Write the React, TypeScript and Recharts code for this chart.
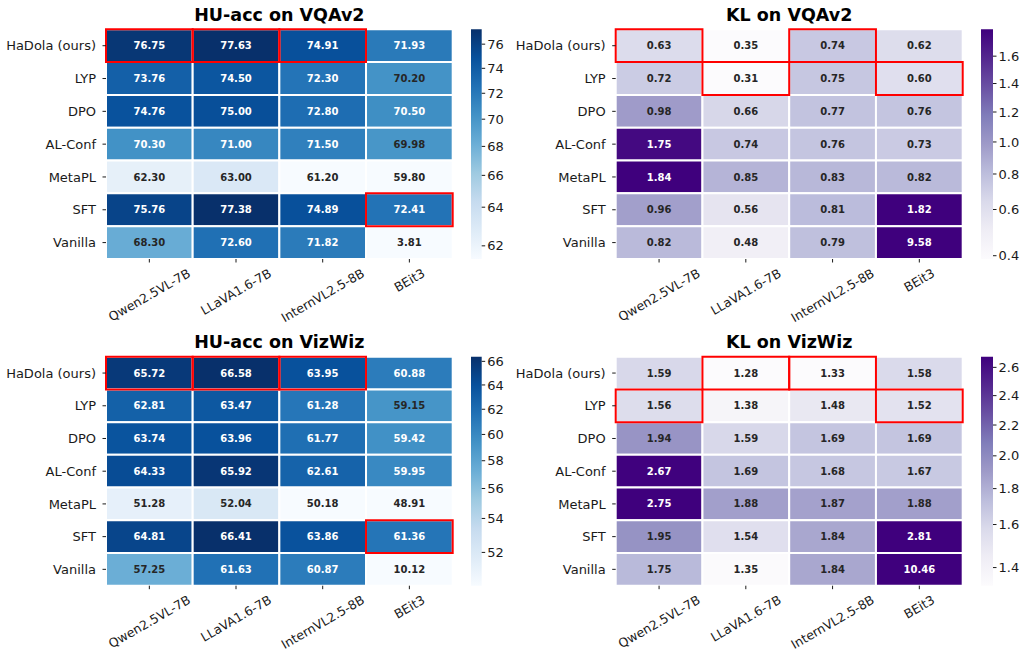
import { ReferenceArea, Scatter, ScatterChart, XAxis, YAxis } from "recharts";

const methods = ["HaDola (ours)", "LYP", "DPO", "AL-Conf", "MetaPL", "SFT", "Vanilla"];
const models = ["Qwen2.5VL-7B", "LLaVA1.6-7B", "InternVL2.5-8B", "BEit3"];

// rows follow `methods`, columns follow `models`
const huAccVqa = [
  [76.75, 77.63, 74.91, 71.93],
  [73.76, 74.5, 72.3, 70.2],
  [74.76, 75.0, 72.8, 70.5],
  [70.3, 71.0, 71.5, 69.98],
  [62.3, 63.0, 61.2, 59.8],
  [75.76, 77.38, 74.89, 72.41],
  [68.3, 72.6, 71.82, 3.81],
];
const klVqa = [
  [0.63, 0.35, 0.74, 0.62],
  [0.72, 0.31, 0.75, 0.6],
  [0.98, 0.66, 0.77, 0.76],
  [1.75, 0.74, 0.76, 0.73],
  [1.84, 0.85, 0.83, 0.82],
  [0.96, 0.56, 0.81, 1.82],
  [0.82, 0.48, 0.79, 9.58],
];
const huAccViz = [
  [65.72, 66.58, 63.95, 60.88],
  [62.81, 63.47, 61.28, 59.15],
  [63.74, 63.96, 61.77, 59.42],
  [64.33, 65.92, 62.61, 59.95],
  [51.28, 52.04, 50.18, 48.91],
  [64.81, 66.41, 63.86, 61.36],
  [57.25, 61.63, 60.87, 10.12],
];
const klViz = [
  [1.59, 1.28, 1.33, 1.58],
  [1.56, 1.38, 1.48, 1.52],
  [1.94, 1.59, 1.69, 1.69],
  [2.67, 1.69, 1.68, 1.67],
  [2.75, 1.88, 1.87, 1.88],
  [1.95, 1.54, 1.84, 2.81],
  [1.75, 1.35, 1.84, 10.46],
];

const huVqaTicks = [62, 64, 66, 68, 70, 72, 74, 76];
const klVqaTicks = [0.4, 0.6, 0.8, 1.0, 1.2, 1.4, 1.6];
const huVizTicks = [52, 54, 56, 58, 60, 62, 64, 66];
const klVizTicks = [1.4, 1.6, 1.8, 2.0, 2.2, 2.4, 2.6];

const BLUES = ["#f7fbff", "#deebf7", "#c6dbef", "#9ecae1", "#6baed6", "#4292c6", "#2171b5", "#08519c", "#08306b"];
const PURPLES = ["#fcfbfd", "#efedf5", "#dadaeb", "#bcbddc", "#9e9ac8", "#807dba", "#6a51a3", "#54278f", "#3f007d"];

const FONT = "'DejaVu Sans', Verdana, sans-serif";
const INK = "#1a1a1a";
const GAMMA = 0.8;
const XTICK_SIZE = 12.5;

function hexToRgb(h: string) {
  const n = parseInt(h.slice(1), 16);
  return [(n >> 16) & 255, (n >> 8) & 255, n & 255];
}

function sampleCmap(stops: string[], t: number) {
  const tt = Math.min(1, Math.max(0, t));
  const pos = tt * (stops.length - 1);
  const i = Math.min(stops.length - 2, Math.floor(pos));
  const f = pos - i;
  const a = hexToRgb(stops[i]);
  const b = hexToRgb(stops[i + 1]);
  const c = a.map((v, k) => Math.round(v + (b[k] - v) * f));
  return `rgb(${c[0]},${c[1]},${c[2]})`;
}

function powerNorm(v: number, vmin: number, vmax: number) {
  const r = Math.min(1, Math.max(0, (v - vmin) / (vmax - vmin)));
  return Math.pow(r, GAMMA);
}

type Panel = {
  id: string;
  title: string;
  values: number[][];
  cmap: string[];
  grad: string;
  vmin: number;
  vmax: number;
  whiteAbove: number;
  better: "max" | "min";
  ticks: number[];
  tickDigits: number;
  left: number;
  top: number;
  width: number;
  height: number;
  plotLeft: number;
  plotTop: number;
  plotW: number;
  plotH: number;
  titleTop: number;
  cbLeft: number;
  cbW: number;
};

const panels: Panel[] = [
  {
    id: "hu-vqa", title: "HU-acc on VQAv2", values: huAccVqa, cmap: BLUES, grad: "cbBlues",
    vmin: 61.56, vmax: 77.26, whiteAbove: 70.25, better: "max", ticks: huVqaTicks, tickDigits: 0,
    left: 0, top: 0, width: 460, height: 330, plotLeft: 106, plotTop: 29.3, plotW: 346.7, plotH: 229.7,
    titleTop: 5.5, cbLeft: 471.3, cbW: 10.7,
  },
  {
    id: "kl-vqa", title: "KL on VQAv2", values: klVqa, cmap: PURPLES, grad: "cbPurples",
    vmin: 0.393, vmax: 1.803, whiteAbove: 1.2, better: "min", ticks: klVqaTicks, tickDigits: 1,
    left: 500, top: 0, width: 470, height: 330, plotLeft: 115.7, plotTop: 29.3, plotW: 347, plotH: 229.7,
    titleTop: 5.5, cbLeft: 980.7, cbW: 12,
  },
  {
    id: "hu-viz", title: "HU-acc on VizWiz", values: huAccViz, cmap: BLUES, grad: "cbBlues",
    vmin: 50.58, vmax: 66.4, whiteAbove: 59.3, better: "max", ticks: huVizTicks, tickDigits: 0,
    left: 0, top: 325, width: 460, height: 326, plotLeft: 106, plotTop: 31.7, plotW: 346.7, plotH: 229,
    titleTop: 333, cbLeft: 471.3, cbW: 10.7,
  },
  {
    id: "kl-viz", title: "KL on VizWiz", values: klViz, cmap: PURPLES, grad: "cbPurples",
    vmin: 1.344, vmax: 2.677, whiteAbove: 2.3, better: "min", ticks: klVizTicks, tickDigits: 1,
    left: 500, top: 325, width: 470, height: 326, plotLeft: 115.7, plotTop: 31.7, plotW: 347, plotH: 229,
    titleTop: 333, cbLeft: 980.7, cbW: 12,
  },
];

let measureCtx: CanvasRenderingContext2D | null = null;
function textWidth(s: string, font: string) {
  if (!measureCtx && typeof document !== "undefined") {
    measureCtx = document.createElement("canvas").getContext("2d");
  }
  if (!measureCtx) return s.length * 7.2;
  measureCtx.font = font;
  return measureCtx.measureText(s).width;
}

function RotatedTick(props: any) {
  const { x, y, payload } = props;
  const label = models[Math.floor(payload.value)];
  const w = textWidth(label, `${XTICK_SIZE}px ${FONT}`);
  const h = XTICK_SIZE * 1.1;
  const a = Math.PI / 6;
  const boxH = w * Math.sin(a) + h * Math.cos(a);
  const cy = y + boxH / 2;
  return (
    <text
      x={x}
      y={cy}
      textAnchor="middle"
      dominantBaseline="central"
      transform={`rotate(-30 ${x} ${cy})`}
      fontSize={XTICK_SIZE}
      fontFamily={FONT}
      fill={INK}
    >
      {label}
    </text>
  );
}

function Heatmap({ p }: { p: Panel }) {
  const centers = p.values.flatMap((row, r) => row.map((_, c) => ({ x: c + 0.5, y: r + 0.5 })));
  const best = models.map((_, c) => {
    const col = p.values.map((row) => row[c]);
    const target = p.better === "max" ? Math.max(...col) : Math.min(...col);
    return col.indexOf(target);
  });

  const cells = p.values.flatMap((row, r) =>
    row.map((v, c) => (
      <ReferenceArea
        key={`cell-${r}-${c}`}
        x1={c}
        x2={c + 1}
        y1={r}
        y2={r + 1}
        fill={sampleCmap(p.cmap, powerNorm(v, p.vmin, p.vmax))}
        fillOpacity={1}
        stroke="#ffffff"
        strokeWidth={2}
        ifOverflow="visible"
        label={{
          value: v.toFixed(2),
          position: "center",
          fill: v > p.whiteAbove ? "#ffffff" : "#262626",
          fontSize: 10,
          fontWeight: "bold",
          fontFamily: FONT,
        }}
      />
    ))
  );

  const boxes = best.map((r, c) => (
    <ReferenceArea
      key={`best-${c}`}
      x1={c}
      x2={c + 1}
      y1={r}
      y2={r + 1}
      fill="none"
      fillOpacity={0}
      stroke="#ff0000"
      strokeWidth={2}
      ifOverflow="visible"
    />
  ));

  return (
    <div style={{ position: "absolute", left: p.left, top: p.top, width: p.width, height: p.height }}>
      <ScatterChart
        width={p.width}
        height={p.height}
        style={{ overflow: "visible" }}
        margin={{ top: p.plotTop, right: p.width - p.plotLeft - p.plotW, bottom: 0, left: 0 }}
      >
        <XAxis
          type="number"
          dataKey="x"
          domain={[0, 4]}
          ticks={[0.5, 1.5, 2.5, 3.5]}
          interval={0}
          axisLine={false}
          stroke={INK}
          tickSize={3.5}
          tickMargin={3.5}
          height={p.height - p.plotTop - p.plotH}
          tick={(tp: any) => <RotatedTick {...tp} />}
        />
        <YAxis
          type="number"
          dataKey="y"
          domain={[0, 7]}
          reversed
          ticks={[0.5, 1.5, 2.5, 3.5, 4.5, 5.5, 6.5]}
          interval={0}
          tickFormatter={(v: number) => methods[Math.floor(v)]}
          width={p.plotLeft}
          axisLine={false}
          stroke={INK}
          tickSize={3.5}
          tickMargin={6.5}
          tick={{ fontSize: 13, fill: INK, fontFamily: FONT }}
        />
        <Scatter data={centers} isAnimationActive={false} shape={() => <g />} />
        {cells}
        {boxes}
      </ScatterChart>
    </div>
  );
}

function ColorBar({ p }: { p: Panel }) {
  const w = 60;
  const padLeft = 10;
  const left = p.cbLeft - padLeft;
  const tickPos = p.ticks.map((t) => powerNorm(t, p.vmin, p.vmax));
  const anchor = [{ x: 0.5, y: 0.5 }];
  return (
    <div style={{ position: "absolute", left, top: p.top, width: w, height: p.height }}>
      <ScatterChart
        width={w}
        height={p.height}
        margin={{ top: p.plotTop, right: 0, bottom: p.height - p.plotTop - p.plotH, left: padLeft }}
      >
        <XAxis type="number" dataKey="x" domain={[0, 1]} hide />
        <YAxis
          type="number"
          dataKey="y"
          orientation="right"
          domain={[0, 1]}
          ticks={tickPos}
          interval={0}
          tickFormatter={(v: number) => {
            const i = tickPos.findIndex((t) => Math.abs(t - v) < 1e-9);
            return i >= 0 ? p.ticks[i].toFixed(p.tickDigits) : "";
          }}
          width={w - padLeft - p.cbW}
          axisLine={false}
          stroke={INK}
          tickSize={3.5}
          tickMargin={2}
          tick={{ fontSize: 13, fill: INK, fontFamily: FONT }}
        />
        <Scatter data={anchor} isAnimationActive={false} shape={() => <g />} />
        <ReferenceArea
          x1={0}
          x2={1}
          y1={0}
          y2={1}
          fill={`url(#${p.grad})`}
          fillOpacity={1}
          stroke="none"
          ifOverflow="visible"
        />
      </ScatterChart>
    </div>
  );
}

function Gradient({ id, stops }: { id: string; stops: string[] }) {
  return (
    <linearGradient id={id} x1="0" y1="1" x2="0" y2="0">
      {stops.map((s, i) => (
        <stop key={i} offset={i / (stops.length - 1)} stopColor={s} />
      ))}
    </linearGradient>
  );
}

export default function App() {
  return (
    <div style={{ position: "relative", width: 1021, height: 651, background: "#fff", fontFamily: FONT, overflow: "hidden" }}>
      <style>{"body{margin:0}"}</style>
      <svg width="1" height="1" style={{ position: "absolute", left: 0, top: 0 }}>
        <defs>
          <Gradient id="cbBlues" stops={BLUES} />
          <Gradient id="cbPurples" stops={PURPLES} />
        </defs>
      </svg>
      {panels.map((p) => (
        <div key={p.id}>
          <div
            style={{
              position: "absolute",
              left: p.left + p.plotLeft,
              top: p.titleTop,
              width: p.plotW,
              textAlign: "center",
              fontSize: 17.5,
              lineHeight: "18px",
              fontWeight: "bold",
              color: "#000",
              whiteSpace: "nowrap",
            }}
          >
            {p.title}
          </div>
          <Heatmap p={p} />
          <ColorBar p={p} />
        </div>
      ))}
    </div>
  );
}
